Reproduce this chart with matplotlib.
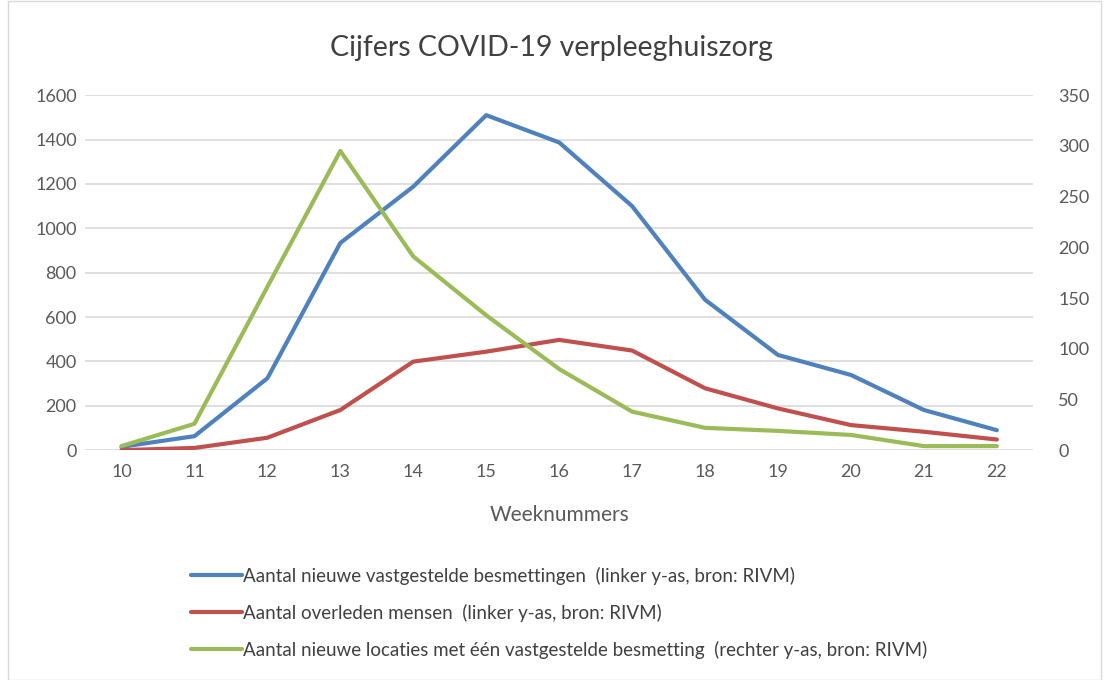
import matplotlib.pyplot as plt
from matplotlib.patches import Rectangle

# weeknummers
weken = [10, 11, 12, 13, 14, 15, 16, 17, 18, 19, 20, 21, 22]

# linker y-as
besmettingen = [15, 63, 324, 934, 1188, 1510, 1387, 1100, 678, 429, 339, 181, 90]
overleden = [0, 10, 56, 181, 399, 444, 497, 449, 279, 188, 113, 83, 48]

# rechter y-as
locaties = [4, 26, 161, 295, 191, 133, 80, 38, 22, 19, 15, 4, 4]

labels = [
    "Aantal nieuwe vastgestelde besmettingen  (linker y-as, bron: RIVM)",
    "Aantal overleden mensen  (linker y-as, bron: RIVM)",
    "Aantal nieuwe locaties met één vastgestelde besmetting  (rechter y-as, bron: RIVM)",
]

plt.rcParams['font.family'] = ['Lato', 'DejaVu Sans']
grijs = '#595959'

fig = plt.figure(figsize=(11.04, 6.8), dpi=100)
ax = fig.add_axes([0.077, 0.338, 0.859, 0.522])
ax2 = ax.twinx()

l1, = ax.plot(weken, besmettingen, color='#4F81BD', lw=3, solid_capstyle='round')
l2, = ax.plot(weken, overleden, color='#C0504D', lw=3, solid_capstyle='round')
l3, = ax2.plot(weken, locaties, color='#9BBB59', lw=3, solid_capstyle='round')

ax.set_xlim(9.5, 22.5)
ax.set_ylim(0, 1600)
ax.set_yticks(range(0, 1601, 200))
ax2.set_ylim(0, 350)
ax2.set_yticks(range(0, 351, 50))
ax.set_xticks(weken)

ax.grid(axis='y', color='#D9D9D9', lw=1.2)
ax.set_axisbelow(True)
for a in (ax, ax2):
    for s in a.spines.values():
        s.set_visible(False)
    a.tick_params(length=0, labelsize=13, colors=grijs)
ax.tick_params(axis='y', pad=6)
ax2.tick_params(axis='y', pad=18)
ax.tick_params(axis='x', pad=10)

ax.set_xlabel('Weeknummers', fontsize=15, color=grijs, labelpad=18)
fig.suptitle('Cijfers COVID-19 verpleeghuiszorg', fontsize=20.5, color='#404040',
             y=1 - 48 / 680, va='center')

fig.legend([l1, l2, l3], labels, loc='upper left', bbox_to_anchor=(0.158, 1 - 550 / 680),
           frameon=False, fontsize=13.5, handlelength=2.7, handletextpad=0.05,
           labelspacing=1.0, labelcolor='#404040')

fig.patches.append(Rectangle((0.007, 0.0), 0.99, 0.999, transform=fig.transFigure,
                             fill=False, edgecolor='#D9D9D9', lw=1))

fig.savefig('out.png', dpi=100)
